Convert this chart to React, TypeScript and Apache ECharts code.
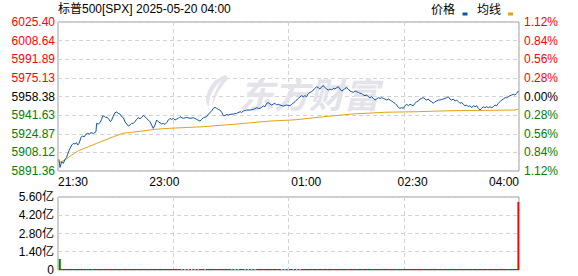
import { useEffect, useRef } from 'react';
import * as echarts from 'echarts';

const TITLE = '标普500[SPX] 2025-05-20 04:00';
const PREV_CLOSE = 5958.38;
const UNIT = 1000; // price offsets are drawn in thousandths of a point
const PRICE_STEP = 16755; // 16.755 points per grid row
const priceTickLabels = ['5891.36', '5908.12', '5924.87', '5941.63', '5958.38', '5975.13', '5991.89', '6008.64', '6025.40'];
const pctTickLabels = ['1.12%', '0.84%', '0.56%', '0.28%', '0.00%', '0.28%', '0.56%', '0.84%', '1.12%'];
const timeLabelMinutes = [0, 90, 210, 300, 390];
const timeLabelTexts = ['21:30', '23:00', '01:00', '02:30', '04:00'];
const volTickLabels = ['0', '1.40亿', '2.80亿', '4.20亿', '5.60亿'];

const priceMinutes = [
  0.8, 1.7, 3.1, 4.5, 5.9, 7.3, 8.2, 9.3, 10.2, 11.6, 13.0, 14.4, 15.8, 16.6, 17.8, 19.5, 20.6, 22.3, 23.4, 25.1,
  26.5, 27.9, 29.9, 31.3, 32.1, 32.7, 34.1, 35.5, 36.9, 37.8, 39.2, 40.3, 41.7, 43.1, 44.3, 45.4, 46.8, 48.2, 49.6, 51.0,
  52.4, 53.9, 55.3, 56.7, 58.1, 59.5, 60.9, 62.3, 63.7, 65.1, 66.5, 67.9, 69.4, 70.8, 72.2, 73.6, 75.0, 76.4, 77.8, 79.2,
  80.6, 82.0, 83.5, 84.9, 86.3, 87.7, 89.1, 90.5, 91.9, 93.3, 94.7, 96.2, 97.6, 99.0, 100.4, 101.8, 103.2, 106.0, 108.8, 111.7,
  114.5, 117.3, 120.1, 121.5, 123.0, 125.8, 127.2, 128.6, 130.0, 131.4, 132.8, 134.2, 135.6, 137.0, 138.5, 139.9, 141.3, 142.7, 144.1, 145.5,
  148.3, 151.2, 154.0, 155.4, 156.8, 159.6, 162.4, 165.3, 168.1, 169.5, 170.9, 172.3, 173.7, 175.1, 176.5, 177.9, 179.4, 180.8, 182.2, 183.6,
  185.0, 186.4, 187.8, 190.6, 193.4, 196.3, 197.7, 200.5, 203.3, 206.1, 207.5, 208.9, 210.4, 211.8, 213.2, 214.6, 216.0, 217.4, 218.8, 220.2,
  221.6, 223.0, 224.5, 225.9, 227.3, 228.7, 230.1, 231.5, 232.9, 234.3, 235.7, 237.1, 238.6, 240.0, 241.4, 242.8, 244.2, 245.6, 247.0, 248.4,
  249.8, 251.2, 252.7, 254.1, 255.5, 256.9, 258.3, 259.7, 261.1, 262.5, 263.9, 265.3, 266.8, 268.2, 269.6, 271.0, 272.4, 273.8, 275.2, 276.6,
  278.0, 279.4, 280.9, 282.3, 283.7, 285.1, 286.5, 287.9, 289.3, 290.7, 292.1, 293.5, 295.0, 296.4, 297.8, 299.2, 300.6, 302.0, 303.4, 304.8,
  306.2, 307.6, 309.1, 310.5, 311.9, 313.3, 314.7, 316.1, 317.5, 318.9, 320.3, 321.8, 323.2, 324.6, 326.0, 327.4, 328.8, 330.2, 331.6, 333.0,
  334.4, 335.9, 337.3, 338.7, 340.1, 341.5, 342.9, 344.3, 345.7, 347.1, 348.5, 350.0, 351.4, 352.8, 354.2, 355.6, 357.0, 358.4, 359.8, 361.2,
  362.6, 364.1, 365.5, 366.9, 368.3, 369.7, 371.1, 372.5, 373.9, 375.3, 376.7, 378.2, 379.6, 381.0, 382.4, 383.8, 385.2, 386.6, 388.0, 389.4,
];
const priceValues = [
  5901.8, 5894.6, 5899.7, 5898.2, 5901.8, 5903.6, 5906.6, 5909.6, 5911.7, 5914.7, 5916.2, 5915.6, 5916.8, 5914.7, 5916.2, 5921.6, 5922.8, 5922.2, 5924.3, 5925.2,
  5924.6, 5925.8, 5925.2, 5926.1, 5926.7, 5934.2, 5933.6, 5934.8, 5937.8, 5940.8, 5940.8, 5939.6, 5939.6, 5937.8, 5935.7, 5937.2, 5940.8, 5943.8, 5944.4, 5943.2,
  5942.6, 5940.2, 5939.3, 5935.7, 5933.6, 5931.8, 5932.7, 5934.2, 5934.2, 5935.7, 5937.8, 5939.3, 5938.4, 5939.6, 5941.4, 5940.2, 5938.7, 5937.2, 5935.7, 5932.7,
  5929.7, 5932.7, 5937.2, 5935.7, 5934.8, 5933.6, 5934.2, 5933.3, 5934.8, 5937.2, 5938.7, 5937.8, 5938.7, 5937.2, 5938.1, 5938.7, 5940.2, 5938.7, 5939.6, 5938.7,
  5939.3, 5937.8, 5936.3, 5937.8, 5939.3, 5940.2, 5942.3, 5944.1, 5945.3, 5947.7, 5948.6, 5947.7, 5946.8, 5946.2, 5944.1, 5941.1, 5941.1, 5942.3, 5941.7, 5942.3,
  5942.6, 5943.2, 5944.7, 5944.1, 5945.3, 5946.2, 5946.2, 5946.8, 5948.3, 5947.7, 5947.7, 5948.6, 5949.8, 5949.2, 5952.2, 5952.8, 5951.6, 5950.7, 5951.6, 5952.2,
  5950.7, 5951.3, 5950.7, 5949.8, 5950.7, 5950.1, 5951.3, 5953.7, 5956.7, 5959.1, 5958.2, 5959.1, 5958.2, 5961.2, 5962.1, 5962.7, 5964.2, 5965.7, 5967.2, 5966.3,
  5965.1, 5967.2, 5968.1, 5966.3, 5965.1, 5964.2, 5965.1, 5964.2, 5965.7, 5965.1, 5966.3, 5967.2, 5965.1, 5963.3, 5964.2, 5965.7, 5966.3, 5965.1, 5963.3, 5962.7,
  5962.1, 5963.3, 5962.7, 5962.1, 5961.2, 5961.2, 5959.7, 5959.1, 5959.7, 5958.2, 5957.3, 5958.2, 5956.7, 5955.2, 5956.1, 5957.3, 5956.7, 5957.3, 5956.7, 5956.1,
  5955.2, 5956.1, 5955.2, 5954.3, 5953.1, 5952.2, 5950.7, 5948.6, 5947.7, 5948.3, 5947.7, 5950.1, 5951.3, 5950.1, 5951.3, 5950.7, 5950.1, 5952.2, 5953.7, 5954.3,
  5956.1, 5956.7, 5957.3, 5956.1, 5955.2, 5956.1, 5954.3, 5953.7, 5952.2, 5953.7, 5954.3, 5955.2, 5955.2, 5955.8, 5956.1, 5956.7, 5957.3, 5958.2, 5956.1, 5955.2,
  5956.1, 5954.3, 5955.2, 5953.7, 5952.2, 5953.1, 5951.3, 5950.1, 5950.7, 5949.2, 5950.1, 5948.3, 5950.1, 5949.2, 5950.1, 5947.7, 5946.2, 5947.7, 5949.2, 5948.3,
  5949.2, 5948.3, 5949.2, 5948.3, 5949.2, 5950.7, 5950.1, 5952.2, 5953.7, 5955.2, 5956.1, 5957.3, 5957.3, 5958.2, 5959.1, 5959.7, 5960.3, 5959.7, 5961.2, 5963.3,
];

const avgMinutes = [0.8, 5.9, 11.6, 17.2, 25.6, 32.7, 39.8, 46.8, 55.2, 62.3, 73.6, 82.1, 94.7, 122.9, 151.2, 179.3, 200.5, 220.2, 248.5, 276.6, 303.4, 331.6, 386.6, 389.4];
const avgValues = [5898.8, 5901.3, 5905.7, 5909.6, 5913.2, 5916.2, 5919.2, 5922.2, 5925.3, 5926.2, 5927.6, 5928.9, 5929.8, 5931.2, 5933.6, 5936.3, 5937.4, 5939.7, 5942.6, 5944.2, 5944.7, 5945.6, 5946.2, 5947.1];

// volume (亿): opening and closing prints; the rest read as ~1px ticks
const volOpen = { minute: 1.5, value: 0.84 };
const volClose = { minute: 389.5, value: 5.22 };
const volTick = 0.08;

const UP = '#ff0000';
const DOWN = '#008000';
const FLAT = '#000000';
const FONT = '"Liberation Sans", Arial, "Noto Sans CJK SC", sans-serif';
const WATERMARK = '#e3e3e9';

const WATERMARK_D =
  'M22 0 C10 3 2 12 1 23 C1 26 2 28 4 30 C4 20 9 11 18 5 C12 12 8 20 8 28 C12 18 17 10 24 4 C24 2 23 1 22 0 Z';

export default function App() {
  const ref = useRef<HTMLDivElement>(null);
  useEffect(() => {
    document.body.style.margin = '0';
    if (!ref.current) return;
    try {
      echarts.graphic.registerShape('emlogo', echarts.graphic.extendPath(WATERMARK_D, {}));
    } catch (e) {}
    const chart = echarts.init(ref.current, null, { renderer: 'svg' });
    const toOff = (p: number) => Math.round((p - PREV_CLOSE) * UNIT);
    const priceData = priceMinutes.map((m, i) => [m, toOff(priceValues[i])]);
    const avgData = avgMinutes.map((m, i) => [m, toOff(avgValues[i])]);
    const volData: any[] = [
      { value: [volOpen.minute, volOpen.value], itemStyle: { color: DOWN } },
    ];
    for (let i = 1; i < priceMinutes.length; i++) {
      const up = priceValues[i] >= priceValues[i - 1];
      volData.push({ value: [priceMinutes[i], volTick], itemStyle: { color: up ? UP : DOWN } });
    }
    volData.push({ value: [volClose.minute, volClose.value], itemStyle: { color: UP } });

    const idx = (v: number) => Math.round((v + 4 * PRICE_STEP) / PRICE_STEP);
    const colorFor = (v: number) => {
      const i = idx(v);
      return i > 4 ? UP : i < 4 ? DOWN : FLAT;
    };
    const dashed = { show: true, lineStyle: { color: '#d3d3d3', type: [4, 3] as any, width: 1 } };

    chart.setOption({
      animation: false,
      backgroundColor: '#ffffff',
      textStyle: { fontFamily: FONT },
      grid: [
        { left: 58, right: 59, top: 22, height: 149, show: true, borderColor: '#9a9a9a', borderWidth: 1 },
        { left: 58, right: 59, top: 197, height: 73, show: true, borderColor: '#9a9a9a', borderWidth: 1 },
      ],
      xAxis: [
        {
          gridIndex: 0, type: 'value', min: 0, max: 390, interval: 97.5,
          axisLine: { show: false }, axisTick: { show: false }, axisLabel: { show: false }, splitLine: dashed,
        },
        {
          gridIndex: 0, type: 'value', min: 0, max: 390, interval: 30, position: 'bottom',
          axisLine: { show: false }, axisTick: { show: false }, splitLine: { show: false },
          axisLabel: {
            show: true, margin: 5, fontSize: 12, color: '#000', fontFamily: FONT,
            showMinLabel: true, showMaxLabel: true, alignMinLabel: 'left', alignMaxLabel: 'right',
            formatter: (v: number) => {
              const i = timeLabelMinutes.indexOf(Math.round(v));
              return i >= 0 ? timeLabelTexts[i] : '';
            },
          },
        },
        {
          gridIndex: 1, type: 'value', min: 0, max: 390, interval: 97.5,
          axisLine: { show: false }, axisTick: { show: false }, axisLabel: { show: false }, splitLine: dashed,
        },
      ],
      yAxis: [
        {
          gridIndex: 0, type: 'value', position: 'left', min: -4 * PRICE_STEP, max: 4 * PRICE_STEP, interval: PRICE_STEP,
          axisLine: { show: false }, axisTick: { show: false }, splitLine: dashed,
          axisLabel: {
            margin: 3, fontSize: 12, fontFamily: FONT,
            formatter: (v: number) => priceTickLabels[idx(v)] ?? '',
            color: (v: any) => colorFor(Number(v)),
          },
        },
        {
          gridIndex: 0, type: 'value', position: 'right', min: -4 * PRICE_STEP, max: 4 * PRICE_STEP, interval: PRICE_STEP,
          axisLine: { show: false }, axisTick: { show: false }, splitLine: { show: false },
          axisLabel: {
            margin: 5, fontSize: 12, fontFamily: FONT,
            formatter: (v: number) => pctTickLabels[8 - idx(v)] ?? '',
            color: (v: any) => colorFor(Number(v)),
          },
        },
        {
          gridIndex: 1, type: 'value', position: 'left', min: 0, max: 5.6, interval: 1.4,
          axisLine: { show: false }, axisTick: { show: false }, splitLine: dashed,
          axisLabel: {
            margin: 4, fontSize: 12, color: '#000', fontFamily: FONT,
            formatter: (v: number) => volTickLabels[Math.round(v / 1.4)] ?? '',
          },
        },
      ],
      series: [
        {
          name: '均线', type: 'line', xAxisIndex: 0, yAxisIndex: 0, data: avgData, showSymbol: false,
          lineStyle: { color: '#e0a21a', width: 1 }, z: 3,
        },
        {
          name: '价格', type: 'line', xAxisIndex: 0, yAxisIndex: 0, data: priceData, showSymbol: false,
          lineStyle: { color: '#1452a6', width: 1 }, z: 4,
        },
        {
          name: '成交量', type: 'bar', xAxisIndex: 2, yAxisIndex: 2, data: volData, barWidth: 2, z: 3,
        },
      ],
      graphic: [
        {
          type: 'emlogo', x: 205, y: 75, scaleX: 0.95, scaleY: 1.07, z: 1, silent: true,
          style: { fill: WATERMARK },
        },
        {
          type: 'text', x: 239, y: 92, z: 1, silent: true,
          style: {
            text: '东方财富', fill: WATERMARK, fontSize: 35, fontWeight: 'bold', fontStyle: 'italic',
            fontFamily: '"Noto Sans CJK SC", sans-serif', verticalAlign: 'middle', align: 'left',
          },
        },
        {
          type: 'text', x: 58, y: 9, z: 10,
          style: { text: TITLE, fill: '#000', fontSize: 12, fontFamily: FONT, verticalAlign: 'middle', align: 'left' },
        },
        {
          type: 'text', x: 431, y: 10, z: 10,
          style: { text: '价格', fill: '#000', fontSize: 12, fontFamily: FONT, verticalAlign: 'middle', align: 'left' },
        },
        { type: 'rect', x: 462.5, y: 12.5, z: 10, shape: { width: 5, height: 3 }, style: { fill: '#0b56a8' } },
        {
          type: 'text', x: 477, y: 10, z: 10,
          style: { text: '均线', fill: '#000', fontSize: 12, fontFamily: FONT, verticalAlign: 'middle', align: 'left' },
        },
        { type: 'rect', x: 508, y: 12.5, z: 10, shape: { width: 5, height: 3 }, style: { fill: '#e0a21a' } },
      ],
    });
    return () => chart.dispose();
  }, []);
  return (
    <div
      ref={ref}
      style={{ position: 'fixed', left: 0, top: 0, width: 578, height: 276, background: '#fff' }}
    />
  );
}
